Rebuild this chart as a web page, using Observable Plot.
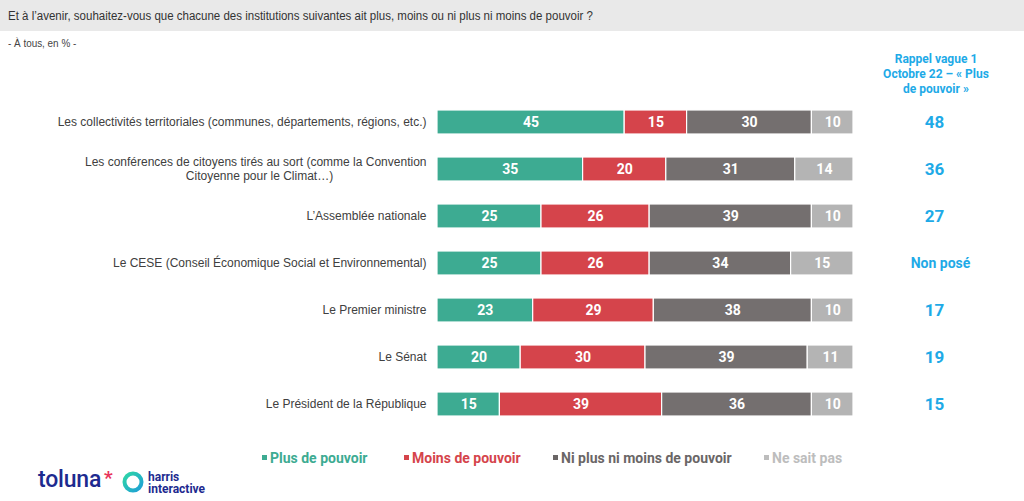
<!DOCTYPE html>
<html>
<head>
<meta charset="utf-8">
<script src="https://cdn.jsdelivr.net/npm/d3@7"></script>
<script src="https://cdn.jsdelivr.net/npm/@observablehq/plot@0.6"></script>
<style>
  html, body { margin: 0; padding: 0; background: #fff; }
  body { width: 1024px; height: 501px; position: relative; overflow: hidden; font-family: "Liberation Sans", Arial, sans-serif; }
  .band { position: absolute; left: 0; top: 0; width: 1024px; height: 31px; background: #e9e9e9; }
  .title { position: absolute; left: 8px; top: 9px; font-size: 12.5px; color: #333; white-space: nowrap; transform: scaleX(0.92); transform-origin: left center; }
  .subtitle { position: absolute; left: 8px; top: 37px; font-size: 11px; color: #444; transform: scaleX(0.9); transform-origin: left center; }
  .rappel { position: absolute; left: 866px; top: 52px; width: 140px; text-align: center; font-family: Roboto, sans-serif; font-weight: 700; font-size: 12px; line-height: 15px; color: #1eaae7; }
  #chart { position: absolute; left: 0; top: 98px; }
  .legend { position: absolute; top: 450px; left: 0; width: 1024px; height: 20px; font-family: Roboto, sans-serif; font-weight: 700; font-size: 14px; }
  .legend span { position: absolute; top: 0; white-space: nowrap; }
  .legend i { display: inline-block; width: 5px; height: 5px; margin-right: 3px; vertical-align: 3px; }
  .logo { position: absolute; left: 38px; top: 466px; height: 30px; }
  .toluna { position: absolute; left: 0; top: 0; font-family: Roboto, sans-serif; font-weight: 500; font-size: 23px; color: #1d2a8f; letter-spacing: -0.2px; }
  .ast { position: absolute; left: 66px; top: 0px; font-family: Roboto, sans-serif; font-weight: 700; font-size: 19px; color: #e8345a; }
  .ring { position: absolute; left: 84px; top: 5px; }
  .harris { position: absolute; left: 110px; top: 5px; font-family: Roboto, sans-serif; font-weight: 700; font-size: 12px; line-height: 12px; color: #1d2a8f; }
</style>
</head>
<body>
<div class="band"></div>
<div class="title">Et à l’avenir, souhaitez-vous que chacune des institutions suivantes ait plus, moins ou ni plus ni moins de pouvoir ?</div>
<div class="subtitle">- À tous, en % -</div>
<div class="rappel">Rappel vague 1<br>Octobre 22 – « Plus<br>de pouvoir »</div>
<div id="chart"></div>
<div class="legend" id="legend"></div>
<div class="logo">
  <div class="toluna">toluna</div>
  <div class="ast">*</div>
  <svg class="ring" width="22" height="22" viewBox="0 0 22 22">
    <defs><linearGradient id="rg" x1="0" y1="0" x2="1" y2="1"><stop offset="0" stop-color="#2fd6a6"/><stop offset="1" stop-color="#1e9fd6"/></linearGradient></defs>
    <circle cx="11" cy="11" r="8.5" fill="none" stroke="url(#rg)" stroke-width="4"/>
  </svg>
  <div class="harris">harris<br>interactive</div>
</div>
<script>
const institutions = [
  "Les collectivités territoriales (communes, départements, régions, etc.)",
  "Les conférences de citoyens tirés au sort (comme la Convention Citoyenne pour le Climat…)",
  "L’Assemblée nationale",
  "Le CESE (Conseil Économique Social et Environnemental)",
  "Le Premier ministre",
  "Le Sénat",
  "Le Président de la République"
];
const labelLine1 = [
  "Les collectivités territoriales (communes, départements, régions, etc.)",
  "Les conférences de citoyens tirés au sort (comme la Convention",
  "L’Assemblée nationale",
  "Le CESE (Conseil Économique Social et Environnemental)",
  "Le Premier ministre",
  "Le Sénat",
  "Le Président de la République"
];
const labelLine2 = ["", "Citoyenne pour le Climat…)", "", "", "", "", ""];
const categories = ["Plus de pouvoir", "Moins de pouvoir", "Ni plus ni moins de pouvoir", "Ne sait pas"];
const colors = ["#3dab92", "#d5444b", "#746f6f", "#b4b4b4"];
const legendColors = ["#3dab92", "#d5444b", "#6a6666", "#bdbdbd"];
const plus = [45, 35, 25, 25, 23, 20, 15];
const moins = [15, 20, 26, 26, 29, 30, 39];
const niNi = [30, 31, 39, 34, 38, 39, 36];
const nsp = [10, 14, 10, 15, 10, 11, 10];
const rappel = ["48", "36", "27", "Non posé", "17", "19", "15"];

const series = [plus, moins, niNi, nsp];
const data = [];
institutions.forEach((inst, i) => {
  categories.forEach((cat, j) => data.push({inst, cat, value: series[j][i]}));
});
const rows = institutions.map((inst, i) => ({inst, l1: labelLine1[i], l2: labelLine2[i], rappel: rappel[i], two: labelLine2[i] !== ""}));
const oneLine = rows.filter(d => !d.two);
const twoLine = rows.filter(d => d.two);
const numRows = rows.filter(d => /^\d+$/.test(d.rappel));
const txtRows = rows.filter(d => !/^\d+$/.test(d.rappel));

const labelStyle = {fill: "#404040", fontFamily: "Liberation Sans, Arial, sans-serif", fontSize: 12};

const chart = Plot.plot({
  width: 1024,
  height: 330,
  marginLeft: 437,
  marginRight: 171,
  marginTop: 0,
  marginBottom: 0,
  style: {background: "transparent", overflow: "visible"},
  x: {domain: [0, 100], axis: null},
  y: {domain: institutions, axis: null, paddingInner: 0.489, paddingOuter: 0.255, round: false},
  color: {domain: categories, range: colors},
  marks: [
    Plot.barX(data, Plot.stackX({x: "value", y: "inst", fill: "cat", stroke: "white", strokeWidth: 1.2})),
    Plot.text(data, Plot.stackX({x: "value", y: "inst", z: "cat", text: d => String(d.value), fill: "white", fontFamily: "Roboto, sans-serif", fontWeight: 700, fontSize: 14})),
    Plot.text(oneLine, {y: "inst", x: () => 0, text: "l1", textAnchor: "end", dx: -11, ...labelStyle}),
    Plot.text(twoLine, {y: "inst", x: () => 0, text: "l1", textAnchor: "end", dx: -11, dy: -7, ...labelStyle}),
    Plot.text(twoLine, {y: "inst", x: () => 0, text: "l2", textAnchor: "middle", dx: -178, dy: 7, ...labelStyle}),
    Plot.text(numRows, {y: "inst", x: () => 100, text: "rappel", textAnchor: "middle", dx: 81, fill: "#1eaae7", fontFamily: "Roboto, sans-serif", fontWeight: 700, fontSize: 17}),
    Plot.text(txtRows, {y: "inst", x: () => 100, text: "rappel", textAnchor: "middle", dx: 87, fill: "#1eaae7", fontFamily: "Roboto, sans-serif", fontWeight: 700, fontSize: 14})
  ]
});
document.getElementById("chart").appendChild(chart);

const legendPos = [262, 404, 553, 764];
const legend = document.getElementById("legend");
categories.forEach((c, i) => {
  const s = document.createElement("span");
  s.style.left = legendPos[i] + "px";
  s.style.color = legendColors[i];
  s.innerHTML = `<i style="background:${legendColors[i]}"></i>${c}`;
  legend.appendChild(s);
});
</script>
</body>
</html>
